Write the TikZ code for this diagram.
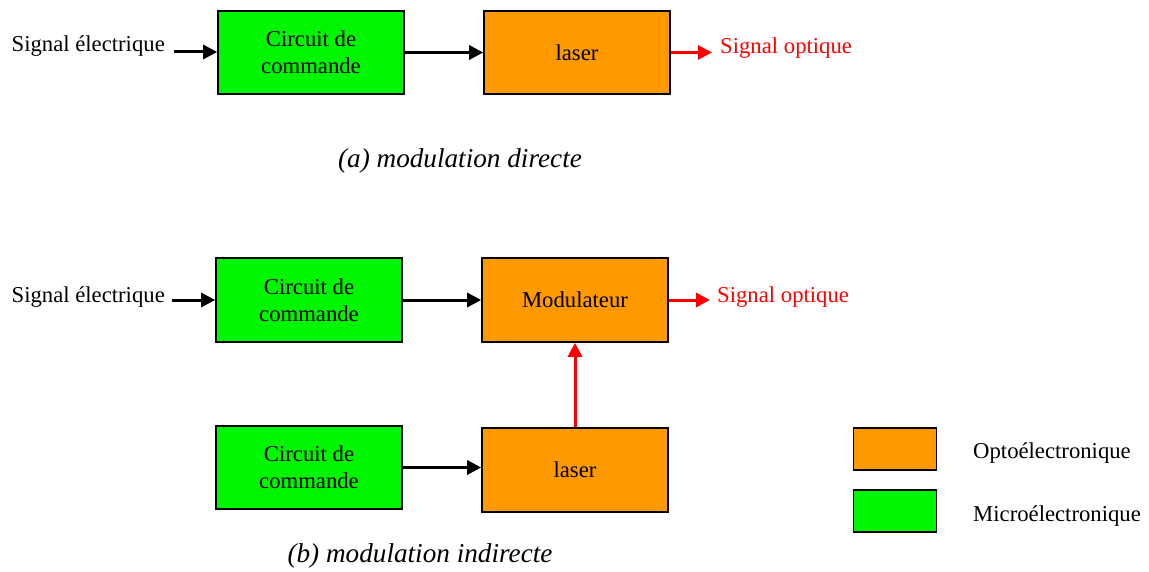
\documentclass[tikz,border=0pt]{standalone}
\usepackage{fontspec}
\setmainfont{Liberation Serif}
\usetikzlibrary{arrows.meta}
\definecolor{optoorange}{RGB}{255,153,0}
\definecolor{microgreen}{RGB}{0,245,0}
\definecolor{sigred}{RGB}{255,0,0}
\begin{document}
\begin{tikzpicture}[x=1pt,y=-1pt,
  every node/.style={font=\fontsize{22.7}{27}\selectfont, inner sep=0pt},
  blockbox/.style={draw=black, line width=1.6pt, minimum width=186pt, minimum height=83pt, align=center},
  microbox/.style={blockbox, fill=microgreen},
  optobox/.style={blockbox, fill=optoorange},
  legbox/.style={draw=black, line width=1.6pt, minimum width=83pt, minimum height=42pt},
  blackarrow/.style={line width=3pt, -{Triangle[length=14pt,width=14pt]}},
  redarrow/.style={draw=sigred, line width=3pt, -{Triangle[length=14pt,width=14pt]}},
  redtext/.style={text=sigred},
  captiontext/.style={font=\fontsize{27.2}{32}\selectfont\itshape}
]
\useasboundingbox (0,0) rectangle (1149,572);

% (a) direct modulation
\node[microbox] (a1) at (311,52.5) {Circuit de\\commande};
\node[optobox] (a2) at (577,52.5) {laser};
\node[anchor=base east] (ain) at (165,52) {Signal électrique};
\coordinate (ainstart) at (174,52);
\draw[blackarrow] (ainstart) -- (ainstart -| a1.west);
\draw[blackarrow] (a1.east) -- (a2.west);
\coordinate (aout) at (712,52.5);
\draw[redarrow] (a2.east) -- (aout);
\node[anchor=base west, redtext] (aouttext) at (720,54) {Signal optique};
\node[anchor=base, captiontext] (capa) at (460,168) {(a) modulation directe};

% (b) indirect modulation
\node[microbox, minimum height=84pt] (b1) at (309,300) {Circuit de\\commande};
\node[optobox, minimum height=84pt] (b2) at (575,300) {Modulateur};
\node[microbox] (b3) at (309,467.5) {Circuit de\\commande};
\node[optobox, minimum height=84pt] (b4) at (575,470) {laser};
\node[anchor=base east] (bin) at (165,302) {Signal électrique};
\coordinate (binstart) at (172,300);
\draw[blackarrow] (binstart) -- (binstart -| b1.west);
\draw[blackarrow] (b1.east) -- (b2.west);
\coordinate (b3out) at (b3.east);
\draw[blackarrow] (b3.east) -- (b3out -| b4.west);
\draw[redarrow] (b4.north) -- (b2.south);
\coordinate (bout) at (710,300);
\draw[redarrow] (b2.east) -- (bout);
\node[anchor=base west, redtext] (bouttext) at (717,302) {Signal optique};
\node[anchor=base, captiontext] (capb) at (420,562) {(b) modulation indirecte};

% legend
\node[legbox, fill=optoorange] (lego) at (895,449) {};
\node[legbox, fill=microgreen] (legm) at (895,511) {};
\node[anchor=base west] (legotext) at (973,458) {Optoélectronique};
\node[anchor=base west] (legmtext) at (973,521) {Microélectronique};
\end{tikzpicture}
\end{document}
